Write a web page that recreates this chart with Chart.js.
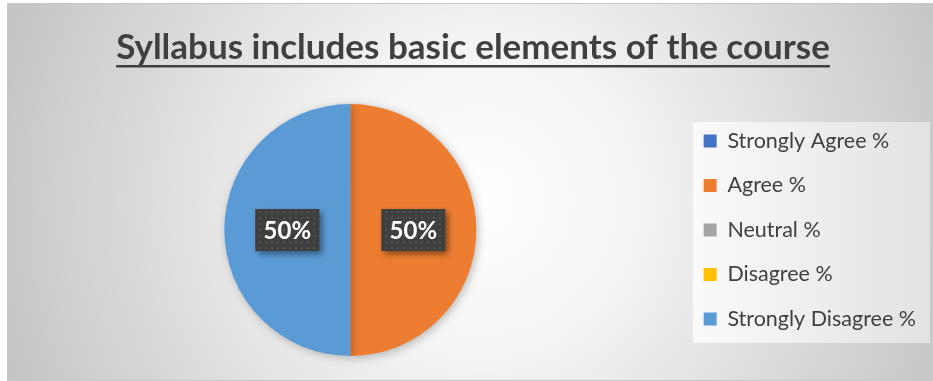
<!DOCTYPE html>
<html>
<head>
<meta charset="utf-8">
<script src="https://cdn.jsdelivr.net/npm/chart.js@4"></script>
<style>
  html, body { margin: 0; padding: 0; background: #fff; }
  #wrap { position: relative; width: 933px; height: 381px; }
</style>
</head>
<body>
<div id="wrap"><canvas id="pieChart" width="933" height="381"></canvas></div>
<script>
// dados do gráfico
const categories = ['Strongly Agree %', 'Agree %', 'Neutral %', 'Disagree %', 'Strongly Disagree %'];
const values = [0, 50, 0, 0, 50];
const colors = ['#4472C4', '#ED7D31', '#A5A5A5', '#FFC000', '#5B9BD5'];
const chartTitle = 'Syllabus includes basic elements of the course';

const FONT = 'Lato, "Open Sans", sans-serif';
const TITLE_SIZE = 35;

// fundo com degradê radial + caixa da legenda
const backgroundPlugin = {
  id: 'background',
  beforeDraw(chart) {
    const c = chart.ctx;
    c.save();
    c.fillStyle = '#ffffff';
    c.fillRect(0, 0, chart.width, chart.height);
    const g = c.createRadialGradient(480, 200, 0, 480, 200, 520);
    g.addColorStop(0, '#ffffff');
    g.addColorStop(0.3, '#f4f4f4');
    g.addColorStop(1, '#c2c2c2');
    c.fillStyle = g;
    c.fillRect(7, 3, 926, 378);
    c.strokeStyle = '#c8c8c8';
    c.lineWidth = 1;
    c.strokeRect(7.5, 3.5, 925, 377);

    // caixa clara atrás da legenda
    const x0 = 693, y0 = 122, x1 = 930, y1 = 343;
    const lg2 = c.createLinearGradient(x0, 0, x1, 0);
    lg2.addColorStop(0, '#fafafa');
    lg2.addColorStop(1, '#e2e2e2');
    c.fillStyle = lg2;
    c.fillRect(x0, y0, x1 - x0, y1 - y0);
    c.restore();
  },
  beforeDatasetsDraw(chart) {
    chart.ctx.save();
    chart.ctx.shadowColor = 'rgba(0,0,0,0.25)';
    chart.ctx.shadowBlur = 8;
    chart.ctx.shadowOffsetX = 2;
    chart.ctx.shadowOffsetY = 2;
  },
  afterDatasetsDraw(chart) {
    chart.ctx.restore();
  }
};

// sublinhado do título
const underlinePlugin = {
  id: 'underline',
  afterDraw(chart) {
    const t = chart.titleBlock;
    if (!t) return;
    const c = chart.ctx;
    c.save();
    c.font = 'bold ' + TITLE_SIZE + 'px ' + FONT;
    const w = c.measureText(chartTitle).width;
    const cx = (t.left + t.right) / 2;
    c.fillStyle = '#404040';
    c.fillRect(cx - w / 2, 65, w, 2.5);
    c.restore();
  }
};

// padrão pontilhado das etiquetas
function makePattern(c) {
  const p = document.createElement('canvas');
  p.width = 6; p.height = 6;
  const pc = p.getContext('2d');
  pc.fillStyle = '#3f3f3f';
  pc.fillRect(0, 0, 6, 6);
  pc.fillStyle = '#525252';
  pc.fillRect(1, 1, 2, 2);
  return c.createPattern(p, 'repeat');
}

// etiquetas de dados
const labelPlugin = {
  id: 'dataLabels',
  afterDraw(chart) {
    const c = chart.ctx;
    const meta = chart.getDatasetMeta(0);
    const data = chart.data.datasets[0].data;
    const total = data.reduce((a, b) => a + b, 0);
    const pat = makePattern(c);
    meta.data.forEach((arc, i) => {
      if (!data[i]) return;
      const pos = arc.tooltipPosition();
      const txt = Math.round(data[i] / total * 100) + '%';
      const bw = 64, bh = 42;
      c.save();
      c.shadowColor = 'rgba(0,0,0,0.45)';
      c.shadowBlur = 6;
      c.shadowOffsetX = 3;
      c.shadowOffsetY = 3;
      c.fillStyle = pat;
      c.fillRect(pos.x - bw / 2, pos.y - bh / 2, bw, bh);
      c.restore();
      c.save();
      c.fillStyle = '#ffffff';
      c.font = 'bold 24px ' + FONT;
      c.textAlign = 'center';
      c.textBaseline = 'middle';
      c.fillText(txt, pos.x, pos.y + 1);
      c.restore();
    });
  }
};

const ctx = document.getElementById('pieChart').getContext('2d');
const pieChart = new Chart(ctx, {
  type: 'pie',
  data: {
    labels: categories,
    datasets: [{
      data: values,
      backgroundColor: colors,
      borderWidth: 0
    }]
  },
  options: {
    responsive: false,
    animation: false,
    layout: { padding: { top: 3, left: 20, right: 7, bottom: 25 } },
    plugins: {
      tooltip: { enabled: false },
      title: {
        display: true,
        text: chartTitle,
        color: '#404040',
        font: { family: FONT, size: TITLE_SIZE, weight: 'bold', lineHeight: 1.2 },
        padding: { top: 24, bottom: 35 }
      },
      legend: {
        position: 'right',
        fullSize: false,
        labels: {
          color: '#404040',
          font: { family: FONT, size: 21.5 },
          boxWidth: 13,
          boxHeight: 13,
          padding: 23
        }
      }
    }
  },
  plugins: [backgroundPlugin, underlinePlugin, labelPlugin]
});
</script>
</body>
</html>
